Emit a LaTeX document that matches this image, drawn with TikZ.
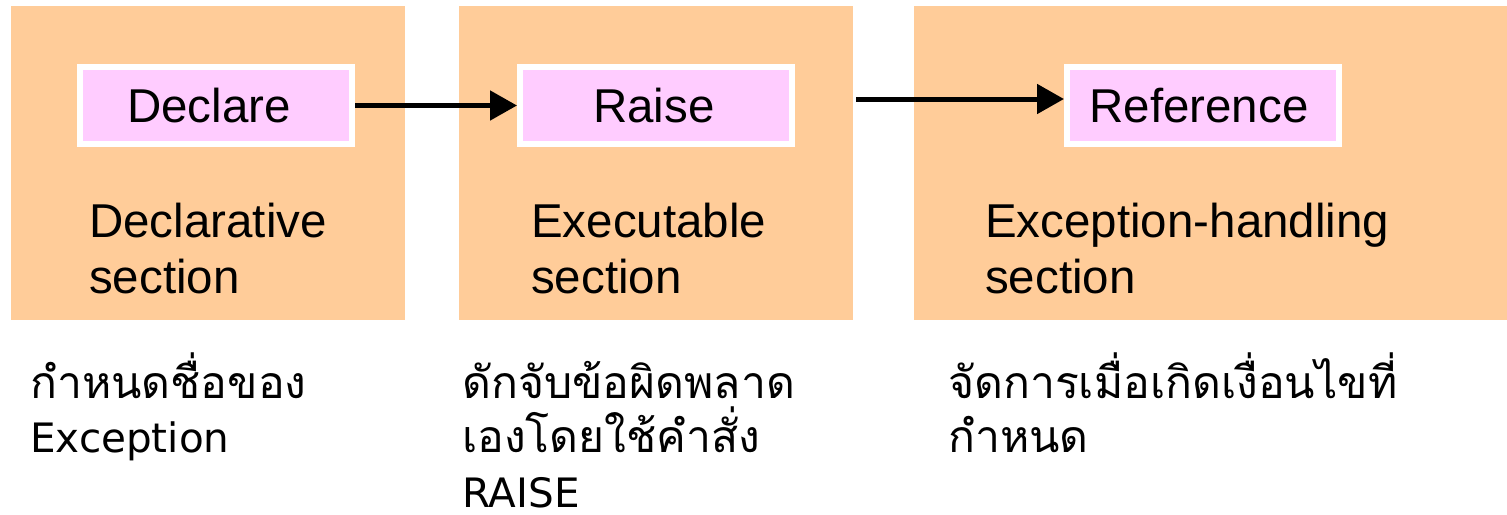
\documentclass[tikz,border=0pt]{standalone}
\usepackage{fontspec}
\setmainfont{Liberation Sans}
\newfontfamily\thaifont[Script=Thai]{Loma}
\newfontfamily\latnote{DejaVu Sans}
\usetikzlibrary{arrows.meta}
\definecolor{secorange}{HTML}{FFCC99}
\definecolor{keypink}{HTML}{FFCCFF}
\begin{document}
\begin{tikzpicture}[x=1pt,y=-1pt,
  secbox/.style={fill=secorange, inner sep=0pt, outer sep=0pt, anchor=north west, minimum height=314pt},
  keybox/.style={fill=keypink, draw=white, line width=6pt, minimum width=272pt, minimum height=77pt, inner sep=0pt, font=\fontsize{47.5}{56}\selectfont},
  seclabel/.style={anchor=base west, inner sep=0pt, font=\fontsize{47.5}{56}\selectfont},
  thainote/.style={anchor=base west, inner sep=0pt, font=\thaifont\fontsize{44.5}{55}\selectfont},
  latinnote/.style={anchor=base west, inner sep=0pt, font=\latnote\fontsize{40.5}{55}\selectfont},
  flow/.style={line width=5pt, -{Triangle[length=27pt,width=29pt]}}
]
\useasboundingbox (0,0) rectangle (1507,514);
\fill[white] (0,0) rectangle (1507,514);
% section boxes
\node[secbox, minimum width=394pt] (decsec) at (11,6) {};
\node[secbox, minimum width=394pt] (exesec) at (459,6) {};
\node[secbox, minimum width=593pt] (excsec) at (914,6) {};
% key boxes
\node[keybox] (declare) at (216,105.5) {\hspace*{-14pt}Declare};
\node[keybox] (raise) at (656,105.5) {\hspace*{-4pt}Raise};
\node[keybox] (reference) at (1203,105.5) {\hspace*{-8pt}Reference};
% section labels
\node[seclabel] (decl1) at (89,237) {Declarative};
\node[seclabel] (decl2) at (89,293) {section};
\node[seclabel] (exe1) at (531,237) {Executable};
\node[seclabel] (exe2) at (531,293) {section};
\node[seclabel] (exc1) at (985,237) {Exception-handling};
\node[seclabel] (exc2) at (985,293) {section};
% notes
\node[thainote] (n11) at (30,398) {กำหนดชื่อของ};
\node[latinnote] (n12) at (30,452) {Exception};
\node[thainote] (n21) at (462,398) {ดักจับข้อผิดพลาด};
\node[thainote] (n22) at (462,452) {เองโดยใช้คำสั่ง};
\node[latinnote] (n23) at (462,507) {RAISE};
\node[thainote] (n31) at (948,398) {จัดการเมื่อเกิดเงื่อนไขที่};
\node[thainote] (n32) at (948,452) {กำหนด};
% arrows
\coordinate (a2start) at (856,99);
\draw[flow] (declare.east) -- (declare.east -| raise.west);
\draw[flow] (a2start) -- (a2start -| reference.west);
\end{tikzpicture}
\end{document}
